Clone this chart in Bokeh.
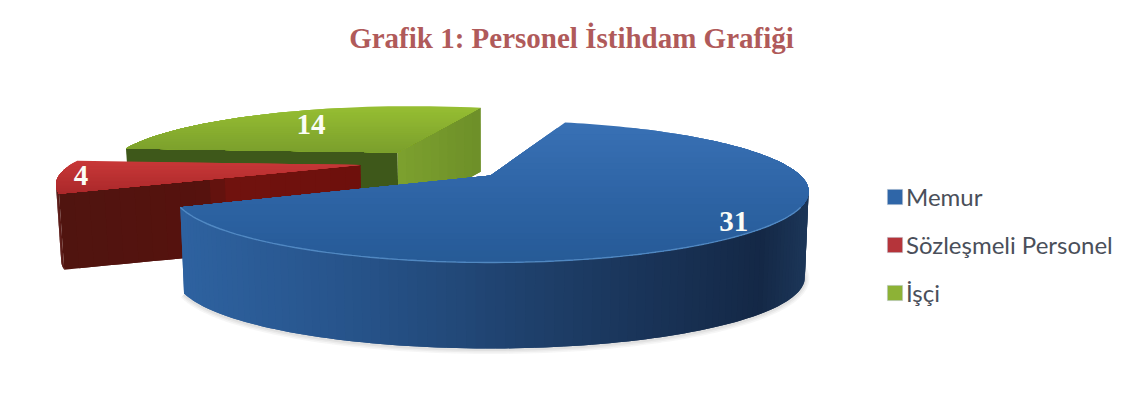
import math
from bokeh.plotting import figure
from bokeh.models import Range1d, Legend, LegendItem
from bokeh.core.properties import value
from bokeh.embed import file_html
from bokeh.resources import INLINE

# ---- data ----
title_text = "Grafik 1: Personel İstihdam Grafiği"
categories = ["Memur", "Sözleşmeli Personel", "İşçi"]
counts = [31, 4, 14]

# ---- style / projection ----
START_DEG = 17.0
CX, CY, RX, RY, D = 490.0, 175.0, 310.0, 67.4, 4.44
EXPLODE = [(0.0, 0.0), (-0.435, 0.16), (-0.325, 0.37)]
RADIUS = [1.0, 0.97, 0.97]
DEPTH = [86.0, 76.0, 64.0]
LABEL_R = [0.90, 0.90, 0.66]
LEGEND_SWATCH = ["#2f66a8", "#b5343a", "#8db236"]


def rgb(c):
    return "#%02x%02x%02x" % tuple(int(round(v)) for v in c)


def lerp_stops(stops, t):
    if t <= stops[0][0]:
        return stops[0][1]
    for (a, ca), (b, cb) in zip(stops, stops[1:]):
        if t <= b:
            f = (t - a) / (b - a)
            return tuple(x + (y - x) * f for x, y in zip(ca, cb))
    return stops[-1][1]


def project(X, Y):
    s = D / (D + Y)
    return CX + RX * X * s, CY - RY * Y * s


def base(pt, depth):
    return CX + (pt[0] - CX) * 0.988, pt[1] + depth


def arc_pts(a0, a1, off, rad, n):
    out = []
    for i in range(n + 1):
        a = math.radians(a0 + (a1 - a0) * i / n)
        out.append(project(rad * math.sin(a) + off[0], rad * math.cos(a) + off[1]))
    return out


def clip_below(poly, yc):
    res = []
    for i, p in enumerate(poly):
        q = poly[(i + 1) % len(poly)]
        pin, qin = p[1] >= yc, q[1] >= yc
        if pin:
            res.append(p)
        if pin != qin:
            f = (yc - p[1]) / (q[1] - p[1])
            res.append((p[0] + (q[0] - p[0]) * f, yc))
    return res


xs_all, ys_all, cs_all = [], [], []


def add(poly, col):
    xs_all.append([p[0] for p in poly])
    ys_all.append([p[1] for p in poly])
    cs_all.append(rgb(col))


def strip_wall(top, depth, stops, key):
    """quads along an edge; each overlaps the next so no seams appear"""
    n = len(top) - 1
    for i in range(n):
        j = min(i + 2, n)
        poly = top[i:j + 1] + [base(p, depth) for p in reversed(top[i:j + 1])]
        add(poly, lerp_stops(stops, key(i / n, top[i])))


def top_bands(poly, stops, n=24):
    y0 = min(p[1] for p in poly)
    y1 = max(p[1] for p in poly)
    add(poly, stops[0][1])
    for i in range(1, n):
        yc = y0 + (y1 - y0) * i / n
        c = clip_below(poly, yc)
        if len(c) >= 3:
            add(c, lerp_stops(stops, i / n))


total = sum(counts)
angles = []
a = START_DEG
for v in counts:
    angles.append((a, a + v / total * 360.0))
    a += v / total * 360.0

TOP = [
    [(0, (56, 112, 180)), (0.6, (44, 98, 162)), (1, (38, 90, 150))],
    [(0, (200, 56, 56)), (1, (170, 40, 42))],
    [(0, (150, 190, 50)), (1, (122, 158, 44))],
]

p = figure(width=1128, height=417, x_range=Range1d(0, 1128), y_range=Range1d(417, 0),
           x_axis_location=None, y_axis_location=None, toolbar_location=None,
           output_backend="svg", min_border=0, outline_line_color=None,
           background_fill_color="#ffffff", border_fill_color="#ffffff")
p.grid.visible = False

# green (back), then red, then blue (front)
for idx in (2, 1):
    a0, a1 = angles[idx]
    off = EXPLODE[idx]
    arc = arc_pts(a0, a1, off, RADIUS[idx], 40)
    apex = project(off[0], off[1])
    h = DEPTH[idx]
    if idx == 2:
        strip_wall([arc[0], apex], h, [(0, (62, 88, 26)), (1, (68, 92, 28))], lambda t, q: t)
        n = 10
        edge = [(apex[0] + (arc[-1][0] - apex[0]) * i / n, apex[1] + (arc[-1][1] - apex[1]) * i / n) for i in range(n + 1)]
        strip_wall(edge, h, [(0, (124, 160, 46)), (1, (108, 142, 40))], lambda t, q: t)
    else:
        strip_wall(arc[:10], h, [(0, (84, 18, 14)), (1, (84, 18, 14))], lambda t, q: t)
        n = 20
        edge = [(arc[0][0] + (apex[0] - arc[0][0]) * i / n, arc[0][1] + (apex[1] - arc[0][1]) * i / n) for i in range(n + 1)]
        strip_wall(edge, h, [(0, (80, 20, 15)), (0.45, (86, 18, 14)), (0.55, (112, 18, 14)), (1, (110, 16, 12))], lambda t, q: t)
    top_bands([apex] + arc, TOP[idx])

# blue slice
a0, a1 = angles[0]
arc = arc_pts(a0, a1, EXPLODE[0], RADIUS[0], 160)
apex = project(*EXPLODE[0])
h = DEPTH[0]
wall_stops = [(0, (46, 98, 160)), (0.3, (38, 82, 136)), (0.65, (28, 58, 98)), (0.93, (20, 40, 70)), (1, (28, 54, 88))]
front = [q for q in arc if q[1] > 175]
bottom = [base(q, h) for q in front]
strip_wall(front, h, wall_stops, lambda t, q: (q[0] - 183) / (808 - 183))
top_bands([apex] + arc, TOP[0])

# soft shadow under the blue slice
for w, al in ((9, 0.05), (6, 0.06), (3, 0.08)):
    p.line([q[0] for q in bottom], [q[1] + 1 for q in bottom], line_color="#555555", line_width=w, line_alpha=al)

p.patches(xs_all, ys_all, fill_color=cs_all, line_color=None)

# rim highlight on the blue slice
rim = [q for q in front if q[1] > 205 or q[0] < 400]
p.line([q[0] for q in rim], [q[1] for q in rim], line_color="#5f97cf", line_width=1.4, line_alpha=0.75)

# data labels
lab_x, lab_y, lab_t = [], [], []
for v, (a0, a1), off, r in zip(counts, angles, EXPLODE, LABEL_R):
    m = math.radians((a0 + a1) / 2)
    x, y = project(r * math.sin(m) + off[0], r * math.cos(m) + off[1])
    lab_x.append(x)
    lab_y.append(y)
    lab_t.append(str(v))
p.text(lab_x, lab_y, text=lab_t, text_color="#fbfdf6", text_font=value("Liberation Serif"),
       text_font_size="29px", text_font_style="bold", text_align="center", text_baseline="middle")

# title
p.text([571], [37], text=[title_text], text_color="#b05a5a", text_font=value("Liberation Serif"),
       text_font_size="29px", text_font_style="bold", text_align="center", text_baseline="middle")

# legend
items = []
for c, col in zip(categories, LEGEND_SWATCH):
    r = p.quad(left=[float("nan")], right=[float("nan")], top=[float("nan")], bottom=[float("nan")],
               fill_color=col, line_color="#b8c4d0", line_width=0.5)
    items.append(LegendItem(label=value(c), renderers=[r]))
legend = Legend(items=items, location=(885, 110), orientation="vertical", background_fill_alpha=0,
                border_line_color=None, padding=0, margin=0, spacing=19, glyph_width=19, glyph_height=19,
                label_height=24, label_standoff=2, label_text_font="Lato", label_text_font_size="24px",
                label_text_color="#4a4f5a")
p.add_layout(legend, "center")

open("out.html", "w").write(file_html(p, INLINE))
